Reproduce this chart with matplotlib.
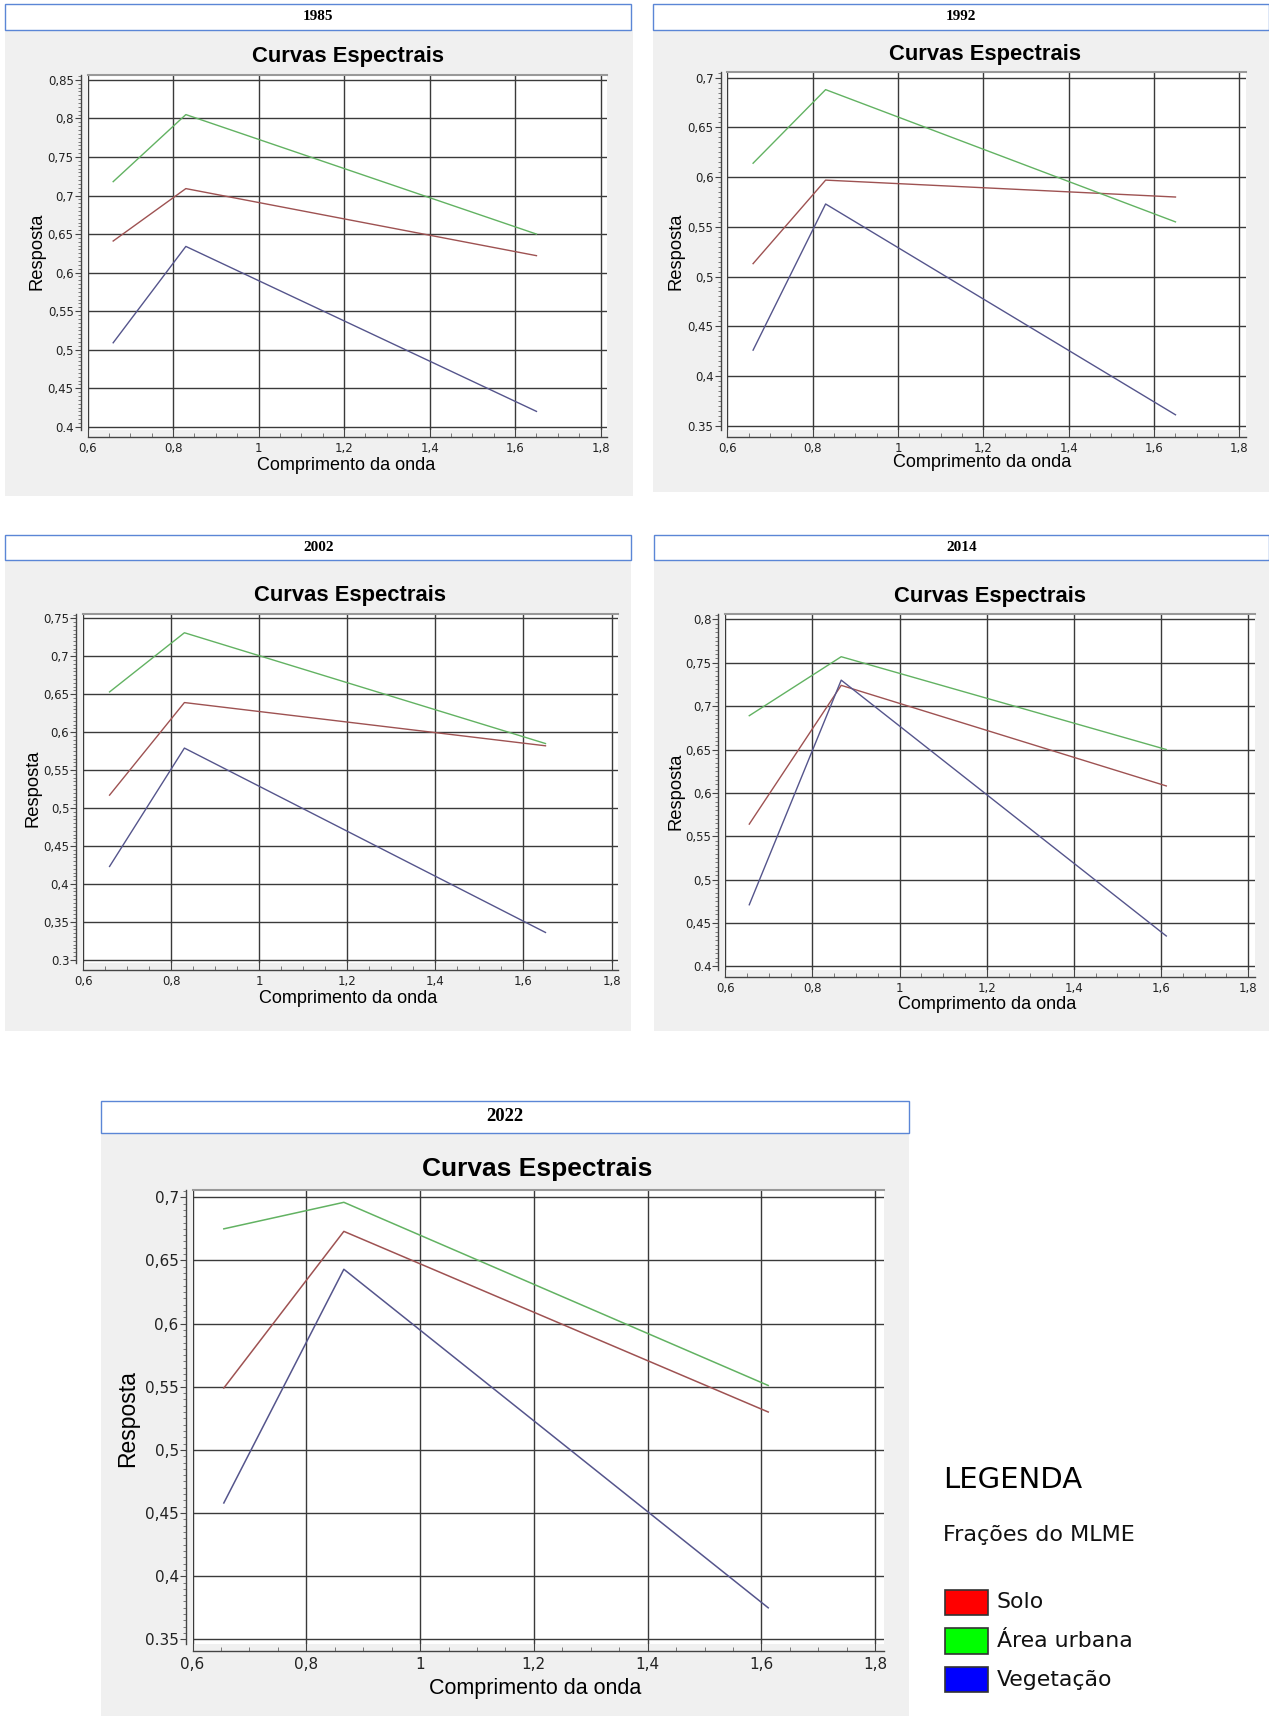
import matplotlib
matplotlib.use('Agg')
import matplotlib.pyplot as plt
from matplotlib.patches import Rectangle
from matplotlib.ticker import MultipleLocator, FixedLocator

# ---------------- data ----------------
years = ['1985', '1992', '2002', '2014', '2022']
series_names = ['Solo', 'Área urbana', 'Vegetação']
x_tick_vals = [0.6, 0.8, 1.0, 1.2, 1.4, 1.6, 1.8]
x_tick_labels = ['0,6', '0,8', '1', '1,2', '1,4', '1,6', '1,8']

wl_1985 = [0.66, 0.83, 1.65]
solo_1985 = [0.641, 0.709, 0.622]
urb_1985 = [0.718, 0.805, 0.650]
veg_1985 = [0.509, 0.634, 0.420]
yt_1985 = [0.4, 0.45, 0.5, 0.55, 0.6, 0.65, 0.7, 0.75, 0.8, 0.85]
yl_1985 = ['0.4', '0,45', '0,5', '0,55', '0,6', '0,65', '0,7', '0,75', '0,8', '0,85']

wl_1992 = [0.66, 0.83, 1.65]
solo_1992 = [0.513, 0.597, 0.580]
urb_1992 = [0.614, 0.688, 0.555]
veg_1992 = [0.426, 0.573, 0.361]
yt_1992 = [0.35, 0.4, 0.45, 0.5, 0.55, 0.6, 0.65, 0.7]
yl_1992 = ['0.35', '0,4', '0,45', '0,5', '0,55', '0,6', '0,65', '0,7']

wl_2002 = [0.66, 0.83, 1.65]
solo_2002 = [0.517, 0.639, 0.582]
urb_2002 = [0.653, 0.731, 0.585]
veg_2002 = [0.423, 0.579, 0.336]
yt_2002 = [0.3, 0.35, 0.4, 0.45, 0.5, 0.55, 0.6, 0.65, 0.7, 0.75]
yl_2002 = ['0.3', '0,35', '0,4', '0,45', '0,5', '0,55', '0,6', '0,65', '0,7', '0,75']

wl_2014 = [0.655, 0.866, 1.612]
solo_2014 = [0.564, 0.724, 0.608]
urb_2014 = [0.689, 0.757, 0.650]
veg_2014 = [0.471, 0.730, 0.435]
yt_2014 = [0.4, 0.45, 0.5, 0.55, 0.6, 0.65, 0.7, 0.75, 0.8]
yl_2014 = ['0.4', '0,45', '0,5', '0,55', '0,6', '0,65', '0,7', '0,75', '0,8']

wl_2022 = [0.655, 0.866, 1.612]
solo_2022 = [0.549, 0.673, 0.530]
urb_2022 = [0.675, 0.696, 0.551]
veg_2022 = [0.458, 0.643, 0.375]
yt_2022 = [0.35, 0.4, 0.45, 0.5, 0.55, 0.6, 0.65, 0.7]
yl_2022 = ['0.35', '0,4', '0,45', '0,5', '0,55', '0,6', '0,65', '0,7']

legend_colors = ['#ff0000', '#00ff00', '#0000ff']
line_colors = ['#9e5252', '#62b262', '#55558c']

# ---------------- layout (reference pixel units) ----------------
W, H = 1160.0, 1568.0
fig = plt.figure(figsize=(12.69, 17.16), dpi=100)
fig.patch.set_facecolor('white')


def fx(px):
    return px / W


def fy(py):
    return 1 - py / H


def rect(x0, y0, x1, y1, **kw):
    fig.patches.append(Rectangle((fx(x0), fy(y1)), fx(x1) - fx(x0), (y1 - y0) / H,
                                 transform=fig.transFigure, figure=fig, **kw))


panels = [
    ('1985', wl_1985, solo_1985, urb_1985, veg_1985, yt_1985, yl_1985,
     (5, 4, 577, 27), (5, 27, 579, 453), (80, 549), (73, 390), (318, 52), (316, 425), (34, 230), False),
    ('1992', wl_1992, solo_1992, urb_1992, veg_1992, yt_1992, yl_1992,
     (597, 4, 1160, 27), (597, 27, 1160, 450), (665, 1133), (71, 389), (900, 50), (898, 423), (618, 230), False),
    ('2002', wl_2002, solo_2002, urb_2002, veg_2002, yt_2002, yl_2002,
     (5, 489, 577, 512), (5, 512, 577, 942), (76, 559), (565, 877), (320, 544), (318, 912), (30, 720), False),
    ('2014', wl_2014, solo_2014, urb_2014, veg_2014, yt_2014, yl_2014,
     (598, 489, 1160, 512), (598, 512, 1160, 942), (663, 1141), (566, 883), (905, 545), (902, 918), (618, 723), False),
    ('2022', wl_2022, solo_2022, urb_2022, veg_2022, yt_2022, yl_2022,
     (92, 1006, 831, 1035), (92, 1035, 831, 1568), (176, 800), (1094, 1498), (491, 1068), (489, 1543), (117, 1296), True),
]

for (yr, wl, so, ur, ve, yt, yl, hdr, bg, xpx, ypx, tpos, xlpos, ylpos, big) in panels:
    rect(*bg, facecolor='#f0f0f0', edgecolor='none', zorder=-10)
    rect(*hdr, facecolor='white', edgecolor='#5b86d6', linewidth=1.0, zorder=-9)
    fig.text(fx((hdr[0] + hdr[2]) / 2), fy((hdr[1] + hdr[3]) / 2), yr,
             ha='center', va='center', family='Liberation Serif', weight='bold',
             fontsize=13.5 if big else 11)

    xlo, xhi = 0.6, 1.815
    ytop_v, ybot_v = yt[-1], yt[0]
    ylo, yhi = ybot_v - 0.004, ytop_v + 0.006
    px_per_x = (xpx[1] - xpx[0]) / 1.2
    px_per_y = (ypx[1] - ypx[0]) / (ytop_v - ybot_v)
    left = xpx[0] + (xlo - 0.6) * px_per_x
    right = xpx[0] + (xhi - 0.6) * px_per_x
    top = ypx[0] - (yhi - ytop_v) * px_per_y
    bottom = ypx[1] + (ybot_v - ylo) * px_per_y
    ax = fig.add_axes([fx(left), fy(bottom), fx(right) - fx(left), (bottom - top) / H])
    ax.set_zorder(1)
    ax.set_facecolor('white')
    ax.set_xlim(xlo, xhi)
    ax.set_ylim(ylo, yhi)

    for vals, c in zip([so, ur, ve], line_colors):
        ax.plot(wl, vals, color=c, linewidth=1.1 if big else 1.0, zorder=3)

    ax.xaxis.set_major_locator(FixedLocator(x_tick_vals))
    ax.set_xticklabels(x_tick_labels)
    ax.xaxis.set_minor_locator(MultipleLocator(0.05))
    ax.yaxis.set_major_locator(FixedLocator(yt))
    ax.set_yticklabels(yl)
    ax.yaxis.set_minor_locator(MultipleLocator(0.005))

    ax.grid(True, which='major', color='#3a3a3a', linewidth=1.0, zorder=1)
    ax.set_axisbelow(True)

    for s in ['left', 'bottom']:
        ax.spines[s].set_position(('outward', 5))
        ax.spines[s].set_color('#444444')
        ax.spines[s].set_linewidth(1.0)
    ax.spines['top'].set_color('#999999')
    ax.spines['top'].set_linewidth(1.5)
    ax.spines['right'].set_visible(False)

    fs = 11 if big else 8.5
    ax.tick_params(axis='y', which='major', direction='out', length=4, width=0.8,
                   labelsize=fs, pad=1, colors='#444444', labelcolor='#222222')
    ax.tick_params(axis='y', which='minor', direction='out', length=2.5, width=0.6, colors='#666666')
    ax.tick_params(axis='x', which='major', direction='in', length=6, width=0.8,
                   labelsize=fs, pad=4, colors='#444444', labelcolor='#222222')
    ax.tick_params(axis='x', which='minor', direction='in', length=3, width=0.6, colors='#666666')

    fig.text(fx(tpos[0]), fy(tpos[1]), 'Curvas Espectrais', ha='center', va='center',
             family='Liberation Sans', weight='bold', fontsize=19 if big else 15.8)
    fig.text(fx(xlpos[0]), fy(xlpos[1]), 'Comprimento da onda', ha='center', va='center',
             family='Liberation Sans', fontsize=15.5 if big else 13)
    fig.text(fx(ylpos[0]), fy(ylpos[1]), 'Resposta', ha='center', va='center', rotation=90,
             family='Liberation Sans', fontsize=16.5 if big else 13.2)

# ---------------- legend ----------------
fig.text(fx(862), fy(1352), 'LEGENDA', ha='left', va='center', family='DejaVu Sans',
         fontsize=21, color='black')
fig.text(fx(862), fy(1403), 'Frações do MLME', ha='left', va='center', family='DejaVu Sans',
         fontsize=16, color='#111111')
for i, (name, col) in enumerate(zip(series_names, legend_colors)):
    yc = 1464 + i * 35.5
    rect(864, yc - 11.5, 903, yc + 11.5, facecolor=col, edgecolor='#333333', linewidth=1.2, zorder=2)
    fig.text(fx(911), fy(yc), name, ha='left', va='center', family='DejaVu Sans',
             fontsize=15.8, color='#111111')

fig.savefig('out.png', dpi=100, facecolor='white')
